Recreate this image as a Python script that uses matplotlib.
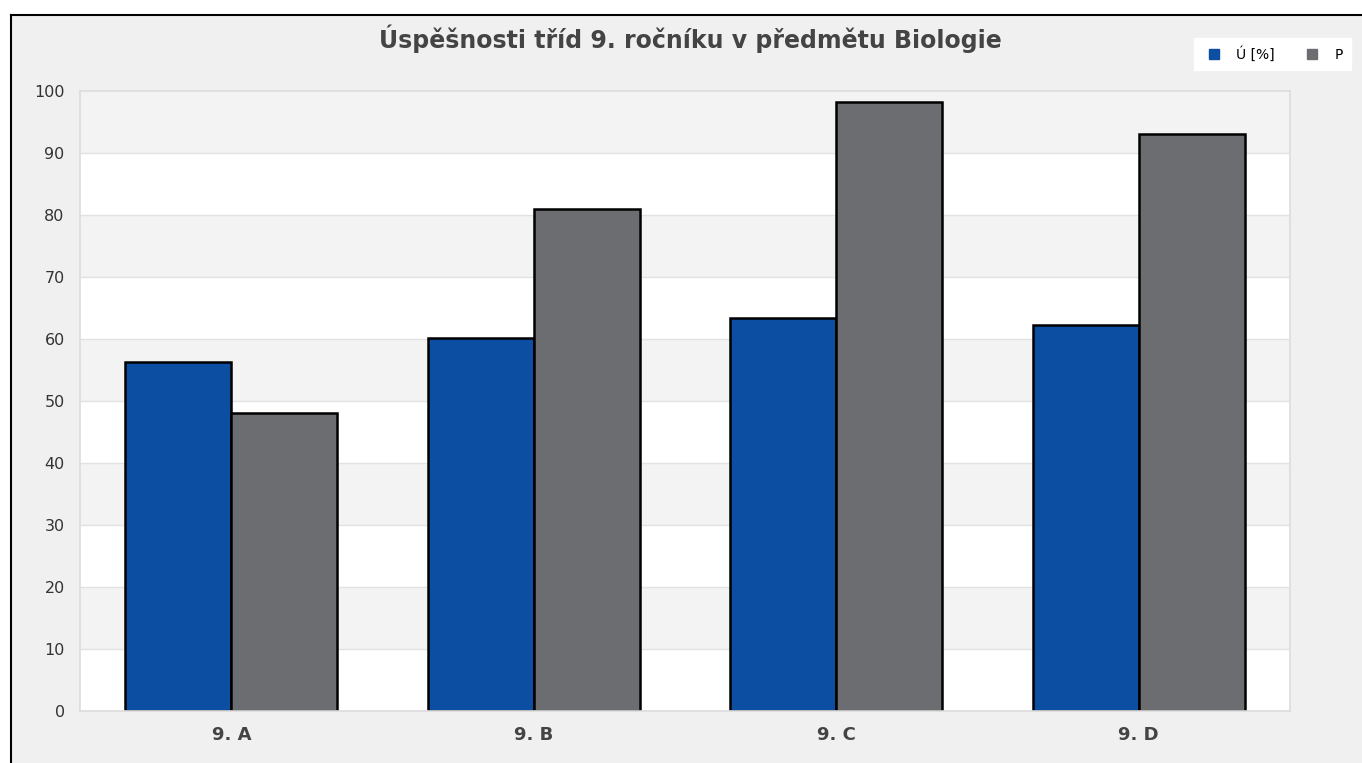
import numpy as np
import matplotlib.pyplot as plt
from matplotlib.patches import Rectangle
from matplotlib.lines import Line2D

# data
classes = ['9. A', '9. B', '9. C', '9. D']
uspesnost = [56.3, 60.2, 63.4, 62.3]
p_values = [48.1, 81.0, 98.2, 93.1]
series_names = ['Ú [%]', 'P']
colors = ['#0b4ea2', '#6c6d71']

W, H = 1362, 763
fig = plt.figure(figsize=(W / 100, H / 100), dpi=100, facecolor='white')

# gray chart frame with black line on top/left only (picture is cropped)
fig.patches.append(Rectangle((11 / W, 0), 1, 1 - 15 / H, transform=fig.transFigure,
                             facecolor='#f0f0f0', edgecolor='none', zorder=-10))
fig.add_artist(Line2D([11 / W, 11 / W], [0, 1 - 15 / H], color='black', lw=1.5,
                      transform=fig.transFigure))
fig.add_artist(Line2D([11 / W, 1], [1 - 15 / H, 1 - 15 / H], color='black', lw=1.5,
                      transform=fig.transFigure))

ax = fig.add_axes([80 / W, 1 - 711 / H, (1290 - 80) / W, (711 - 91) / H])
ax.set_facecolor('white')
for lo in range(10, 100, 20):
    ax.axhspan(lo, lo + 10, color='#f3f3f3', zorder=0, lw=0)
for yv in range(10, 100, 10):
    ax.axhline(yv, color='#e2e2e2', lw=1, zorder=0.5)

x = np.arange(len(classes))
bw = 0.35
ax.bar(x - bw / 2, uspesnost, bw, color=colors[0], edgecolor='black', lw=1.8, zorder=2)
ax.bar(x + bw / 2, p_values, bw, color=colors[1], edgecolor='black', lw=1.8, zorder=2)

ax.set_xlim(-0.5, len(classes) - 0.5)
ax.set_ylim(0, 100)
ax.set_yticks(range(0, 101, 10))
ax.set_xticks(x)
ax.set_xticklabels(classes, fontweight='bold', fontsize=13, color='#444444')
ax.tick_params(axis='y', labelsize=11.5, colors='#333333', length=0, pad=11)
ax.tick_params(axis='x', length=0, pad=11)
for s in ax.spines.values():
    s.set_color('#dcdcdc')
    s.set_linewidth(1.2)

fig.text(690 / W, 1 - 39 / H, 'Úspěšnosti tříd 9. ročníku v předmětu Biologie',
         ha='center', va='center', fontsize=17, fontweight='bold', color='#444444',
         family='DejaVu Sans')

handles = [Line2D([], [], marker='s', ls='none', color=c, markersize=7) for c in colors]
leg = fig.legend(handles, series_names, loc='upper right',
                 bbox_to_anchor=(1358 / W, 1 - 31 / H), ncol=2, fontsize=10,
                 frameon=True, fancybox=False, edgecolor='white', facecolor='white',
                 framealpha=1, handletextpad=0.8, columnspacing=1.9, borderpad=0.6,
                 handlelength=1.6)

fig.savefig('out.png', dpi=100)
